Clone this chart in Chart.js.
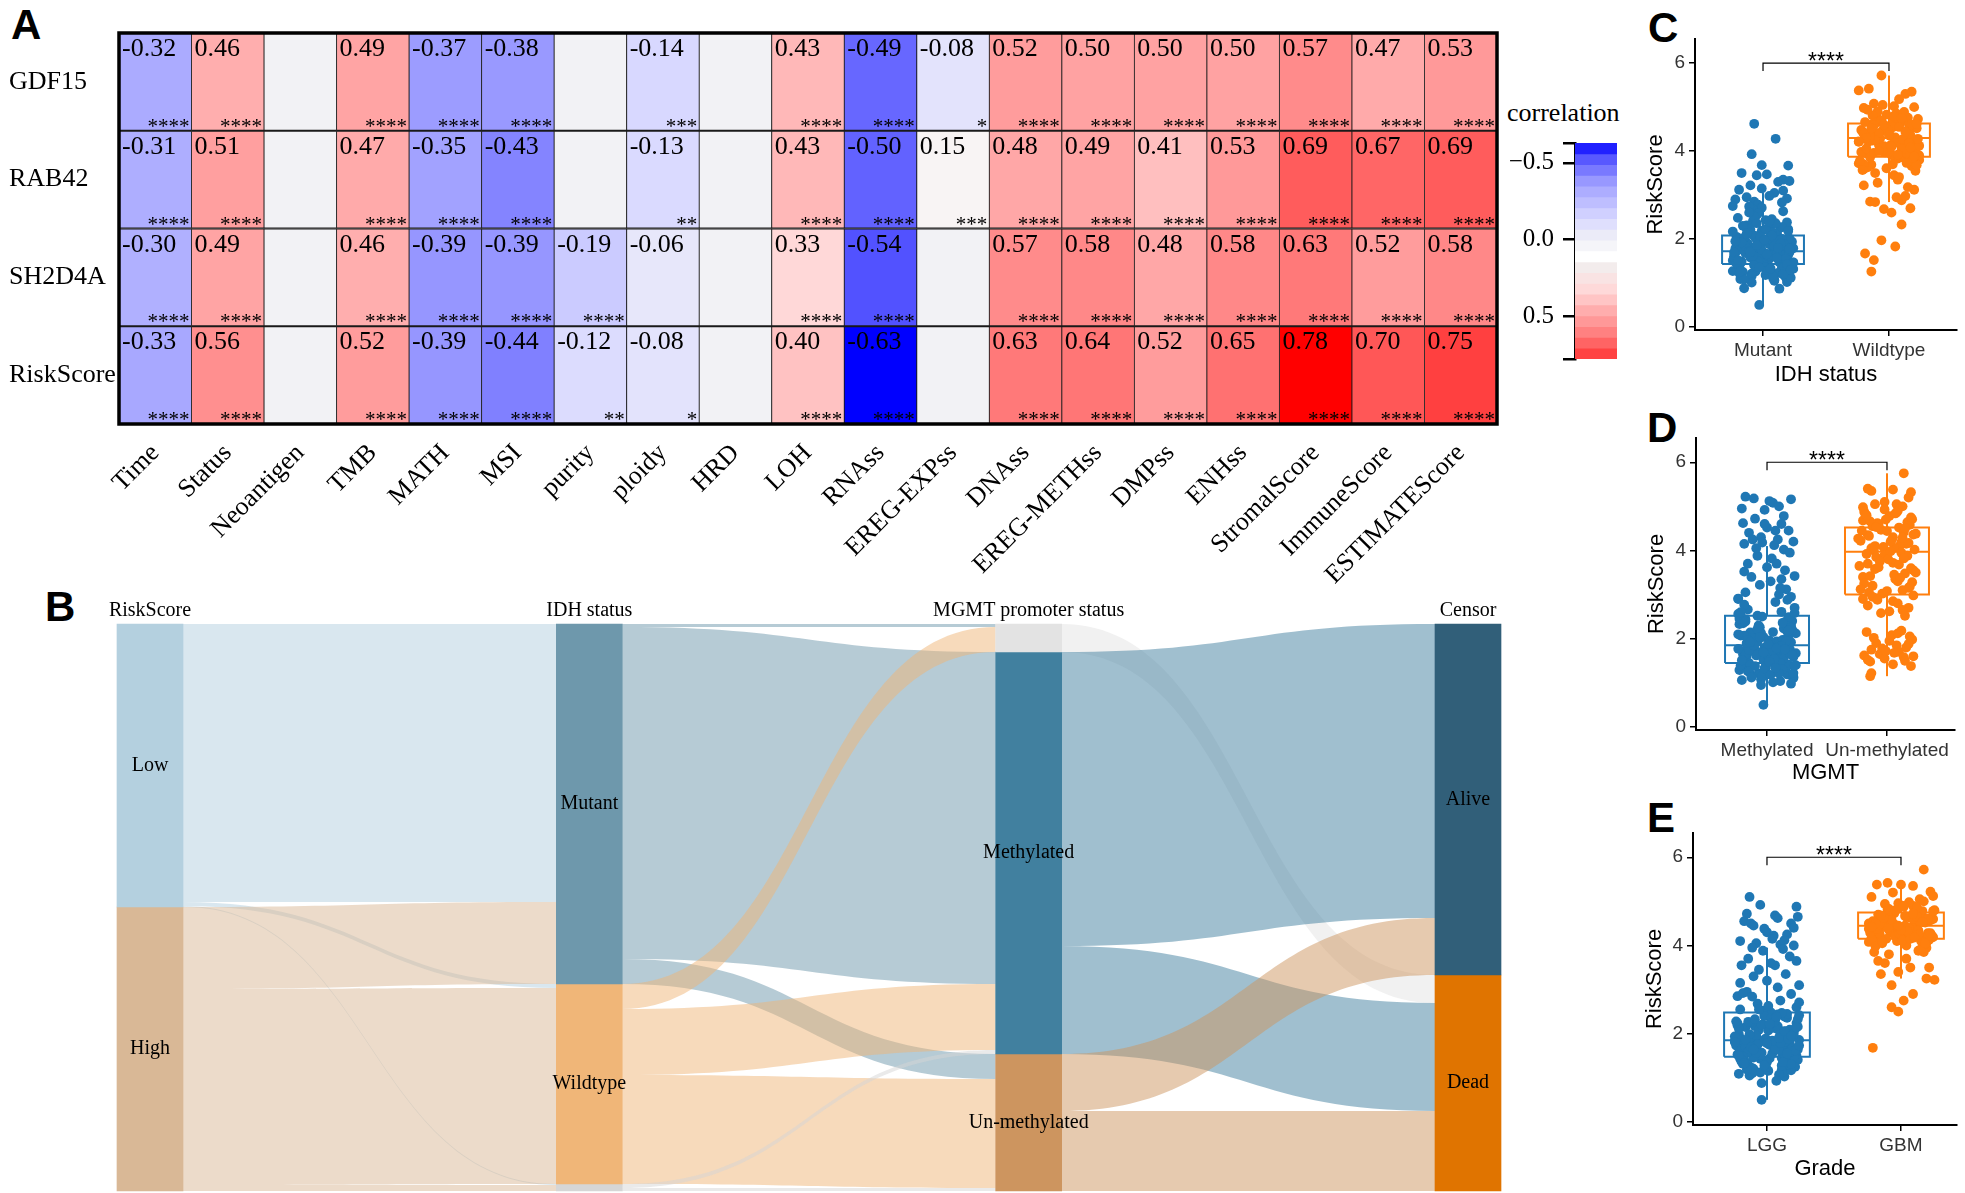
<!DOCTYPE html>
<html>
<head>
<meta charset="utf-8">
<script src="https://cdn.jsdelivr.net/npm/chart.js@4.4.1/dist/chart.umd.min.js"></script>
<style>
  body { margin: 0; background: #fff; width: 1965px; height: 1193px; position: relative; overflow: hidden; }
  canvas { position: absolute; }
  .letter { position: absolute; font: bold 42px 'Liberation Sans', Arial, sans-serif; line-height: 1; color: #000; }
  .note { position: absolute; font: 26px 'Liberation Serif', 'Times New Roman', serif; line-height: 1; color: #000; }
</style>
</head>
<body>
<div class="letter" style="left:11px;top:4px">A</div>
<div class="letter" style="left:45px;top:586px">B</div>
<div class="letter" style="left:1648px;top:7px">C</div>
<div class="letter" style="left:1647px;top:407px">D</div>
<div class="letter" style="left:1647px;top:797px">E</div>
<div class="note" style="left:1507px;top:100px">correlation</div>

<canvas id="sankey" width="1530" height="613" style="left:0;top:580px"></canvas>
<canvas id="heat" width="1500" height="600" style="left:0;top:0"></canvas>
<canvas id="legend" width="150" height="300" style="left:1490px;top:90px"></canvas>
<canvas id="boxC" width="335" height="395" style="left:1630px;top:0"></canvas>
<canvas id="boxD" width="335" height="395" style="left:1630px;top:395px"></canvas>
<canvas id="boxE" width="335" height="403" style="left:1630px;top:790px"></canvas>

<script>
// ---------- panel A: correlation heatmap ----------
const heatRows = ['GDF15', 'RAB42', 'SH2D4A', 'RiskScore'];
const heatCols = ['Time', 'Status', 'Neoantigen', 'TMB', 'MATH', 'MSI', 'purity', 'ploidy', 'HRD', 'LOH',
  'RNAss', 'EREG-EXPss', 'DNAss', 'EREG-METHss', 'DMPss', 'ENHss', 'StromalScore', 'ImmuneScore', 'ESTIMATEScore'];

// null = not significant, no value printed
const corGDF15 = [-0.32, 0.46, null, 0.49, -0.37, -0.38, null, -0.14, null, 0.43, -0.49, -0.08, 0.52, 0.50, 0.50, 0.50, 0.57, 0.47, 0.53];
const corRAB42 = [-0.31, 0.51, null, 0.47, -0.35, -0.43, null, -0.13, null, 0.43, -0.50, 0.15, 0.48, 0.49, 0.41, 0.53, 0.69, 0.67, 0.69];
const corSH2D4A = [-0.30, 0.49, null, 0.46, -0.39, -0.39, -0.19, -0.06, null, 0.33, -0.54, null, 0.57, 0.58, 0.48, 0.58, 0.63, 0.52, 0.58];
const corRiskScore = [-0.33, 0.56, null, 0.52, -0.39, -0.44, -0.12, -0.08, null, 0.40, -0.63, null, 0.63, 0.64, 0.52, 0.65, 0.78, 0.70, 0.75];

const sigGDF15 = ['****', '****', '', '****', '****', '****', '', '***', '', '****', '****', '*', '****', '****', '****', '****', '****', '****', '****'];
const sigRAB42 = ['****', '****', '', '****', '****', '****', '', '**', '', '****', '****', '***', '****', '****', '****', '****', '****', '****', '****'];
const sigSH2D4A = ['****', '****', '', '****', '****', '****', '****', '', '', '****', '****', '', '****', '****', '****', '****', '****', '****', '****'];
const sigRiskScore = ['****', '****', '', '****', '****', '****', '**', '*', '', '****', '****', '', '****', '****', '****', '****', '****', '****', '****'];

const heatValues = [corGDF15, corRAB42, corSH2D4A, corRiskScore];
const heatStars = [sigGDF15, sigRAB42, sigSH2D4A, sigRiskScore];

const legendMin = -0.63;
const legendMax = 0.78;
const legendTicks = [-0.5, 0.0, 0.5];
const legendSteps = 20;

// ---------- panel B: alluvial ----------
const sankeyAxes = ['RiskScore', 'IDH status', 'MGMT promoter status', 'Censor'];
const riskLevels = ['Low', 'High'];
const riskCounts = [283, 284];
const idhLevels = ['Mutant', 'Wildtype', 'NA'];
const idhCounts = [360, 200, 7];
const mgmtLevels = ['NA', 'Methylated', 'Un-methylated'];
const mgmtCounts = [28, 402, 137];
const censorLevels = ['Alive', 'Dead'];
const censorCounts = [351, 216];
// [from, to, count]
const riskToIdh = [[0, 0, 278], [0, 1, 4], [0, 2, 1], [1, 0, 82], [1, 1, 196], [1, 2, 6]];
const idhToMgmt = [[0, 0, 3], [0, 1, 332], [0, 2, 25], [1, 0, 25], [1, 1, 66], [1, 2, 109], [2, 1, 4], [2, 2, 3]];
const mgmtToCensor = [[0, 1, 28], [1, 0, 294], [1, 1, 108], [2, 0, 57], [2, 1, 80]];

// ---------- panels C-E: RiskScore by group ----------
const idhGroups = ['Mutant', 'Wildtype'];
const mgmtGroups = ['Methylated', 'Un-methylated'];
const gradeGroups = ['LGG', 'GBM'];
const scoreTicks = [0, 2, 4, 6];

// box stats: q1, median, q3, lower whisker, upper whisker
const idhMutantBox = [1.43, 1.72, 2.08, 0.50, 3.05];
const idhWildBox = [3.87, 4.30, 4.63, 2.84, 5.72];
const mgmtMethBox = [1.45, 1.85, 2.52, 0.50, 4.10];
const mgmtUnmBox = [3.00, 3.97, 4.52, 1.15, 5.75];
const gradeLggBox = [1.48, 1.85, 2.48, 0.50, 3.95];
const gradeGbmBox = [4.15, 4.45, 4.75, 3.25, 5.42];

const idhMutantY = [
  4.62, 4.28, 3.93, 3.68, 3.67, 3.50, 3.45, 3.47, 3.35, 3.32,
  3.30, 3.12, 3.15, 3.05, 3.10, 2.90, 2.95, 2.85, 0.50, 0.88,
  0.87, 2.98, 3.22, 2.92, 2.75,
  1.72, 1.45, 2.05, 1.88, 1.31, 2.41, 1.62, 1.15, 1.98, 2.22,
  1.54, 1.07, 1.83, 2.63, 1.39, 1.76, 2.12, 1.26, 1.94, 1.58,
  2.34, 1.69, 1.02, 2.78, 1.47, 1.85, 2.01, 1.21, 1.66, 2.48,
  1.36, 1.91, 1.11, 2.17, 1.52, 2.71, 1.79, 1.28, 2.06, 1.43,
  1.64, 2.29, 1.18, 1.97, 1.56, 2.55, 1.34, 1.81, 2.09, 1.24,
  1.73, 2.38, 1.49, 1.05, 1.89, 2.26, 1.61, 1.33, 2.67, 1.77,
  1.41, 2.14, 1.86, 1.13, 1.68, 2.45, 1.27, 1.95, 1.59, 2.21,
  1.38, 1.82, 2.83, 1.09, 1.71, 2.03, 1.46, 2.58, 1.23, 1.92,
  1.55, 2.31, 1.67, 1.16, 2.11, 1.78, 1.42, 2.51, 1.29, 1.87,
  1.63, 2.19, 1.35, 2.74, 1.99, 1.51, 1.19, 2.36, 1.74, 1.84,
  1.48, 1.93, 1.12, 2.24, 1.65, 1.37, 2.07, 1.57, 1.80, 2.43,
  1.25, 1.70, 1.01, 2.16, 1.44, 1.90, 2.60, 1.32, 1.60, 2.00,
  1.58, 1.83, 1.29, 2.02, 1.66, 1.44, 2.27, 1.75, 1.15, 1.92,
  1.37, 2.10, 1.61, 1.87, 1.23, 2.36, 1.50, 1.78, 2.15, 1.33,
  1.69, 1.96, 1.40, 2.22, 1.55, 1.08, 1.84, 2.05, 1.47, 1.73,
  2.40, 1.26, 1.90, 1.62, 2.18, 1.35, 1.80, 1.52, 2.08, 1.20,
  1.70, 1.98, 1.43, 2.30, 1.57, 1.86, 1.30, 2.12, 1.65, 1.95
];
const idhMutantDx = [
  -0.07, 0.10, -0.09, -0.01, 0.20, -0.17, -0.05, 0.03, 0.16, 0.21,
  0.12, -0.19, -0.01, 0.09, 0.16, -0.22, -0.13, -0.07, -0.03, -0.15,
  0.13, 0.05, -0.10, 0.19, -0.24,
  -0.12, 0.18, -0.21, 0.05, 0.22, -0.08, 0.14, -0.17, -0.02, 0.20,
  -0.23, 0.09, -0.14, 0.16, 0.01, -0.19, 0.11, -0.06, 0.23, -0.10,
  0.07, -0.22, 0.19, -0.04, 0.13, -0.16, 0.21, -0.09, 0.03, -0.20,
  0.15, -0.13, 0.08, -0.24, 0.17, -0.01, 0.24, -0.18, 0.10, -0.07,
  0.20, -0.11, 0.02, -0.15, 0.12, -0.05, 0.23, -0.21, 0.06, 0.16,
  -0.03, 0.19, -0.17, 0.09, -0.12, 0.14, -0.23, 0.04, -0.08, 0.22,
  -0.19, 0.11, -0.02, 0.18, -0.14, 0.07, -0.24, 0.13, 0.00, -0.10,
  0.21, -0.06, 0.15, -0.18, 0.08, -0.15, 0.24, -0.04, 0.12, -0.20,
  0.05, -0.13, 0.17, -0.09, 0.10, -0.22, 0.19, -0.07, 0.03, -0.16,
  0.14, -0.01, 0.20, -0.11, 0.06, -0.24, 0.16, -0.05, 0.09, -0.18,
  0.00, -0.20, 0.22, -0.13, 0.04, 0.17, -0.06, -0.23, 0.11, 0.02,
  -0.16, 0.21, -0.09, 0.07, -0.18, 0.13, -0.11, 0.24, -0.03, 0.15,
  0.02, -0.14, 0.19, -0.06, 0.11, -0.21, 0.15, -0.01, 0.08, -0.17,
  0.23, -0.09, 0.04, 0.17, -0.19, 0.10, -0.04, 0.21, -0.12, 0.06,
  -0.23, 0.13, -0.07, 0.02, 0.18, -0.15, 0.09, -0.02, 0.24, -0.11,
  0.05, -0.18, 0.14, -0.08, 0.20, -0.03, 0.12, -0.20, 0.07, 0.16,
  -0.10, 0.01, 0.19, -0.16, 0.11, -0.05, 0.22, -0.13, 0.03, -0.22
];

const idhWildY = [
  5.72, 5.38, 5.42, 5.35, 5.30, 5.18, 5.08, 5.05, 5.02, 5.00,
  4.98, 3.22, 3.12, 2.85, 2.84, 2.88, 2.95, 2.70, 2.68, 2.60,
  2.33, 1.97, 1.83, 1.67, 1.52, 1.26, 2.98, 3.35, 3.28, 3.18,
  4.31, 3.95, 4.62, 4.12, 3.78, 4.48, 4.05, 4.83, 3.66, 4.24,
  4.71, 3.88, 4.40, 4.17, 3.59, 4.55, 4.02, 4.89, 3.72, 4.35,
  4.09, 4.66, 3.83, 4.28, 4.52, 3.97, 4.76, 3.69, 4.20, 4.44,
  3.91, 4.60, 4.14, 3.80, 4.37, 4.85, 3.63, 4.07, 4.50, 4.26,
  3.75, 4.68, 4.00, 4.42, 3.86, 4.19, 4.79, 3.55, 4.33, 4.58,
  3.93, 4.11, 4.73, 3.70, 4.46, 4.04, 4.90, 3.84, 4.22, 4.63,
  3.98, 4.39, 3.61, 4.15, 4.81, 3.77, 4.29, 4.54, 3.90, 4.06,
  4.69, 3.50, 4.36, 4.21, 3.82, 4.60, 4.01, 4.47, 3.68, 4.94,
  4.13, 3.87, 4.41, 4.27, 3.57, 4.74, 3.96, 4.18, 4.57, 3.73,
  4.32, 3.45, 4.03, 4.65, 3.41,
  4.25, 4.55, 3.85, 4.40, 4.10, 4.70, 3.95, 4.33, 4.62, 4.05,
  4.48, 3.78, 4.18, 4.80, 4.30, 3.92, 4.58, 4.12, 4.44, 4.00,
  4.66, 3.88, 4.36, 4.22, 4.75, 3.70, 4.52, 4.08, 4.28, 4.60
];
const idhWildDx = [
  -0.06, -0.24, -0.16, 0.18, 0.13, 0.08, -0.12, -0.05, 0.04, 0.20,
  -0.20, -0.20, 0.20, -0.15, -0.11, 0.10, 0.06, 0.17, -0.04, 0.02,
  0.10, -0.06, 0.05, -0.19, -0.12, -0.14, 0.13, 0.07, -0.09, 0.15,
  0.05, -0.18, 0.21, -0.07, 0.14, -0.22, 0.10, -0.02, 0.18, -0.13,
  0.03, 0.23, -0.16, 0.08, -0.20, 0.16, -0.05, 0.12, -0.24, 0.01,
  0.19, -0.11, 0.07, -0.19, 0.22, -0.03, 0.15, -0.14, 0.09, -0.21,
  0.02, 0.17, -0.08, 0.24, -0.12, 0.06, -0.17, 0.13, -0.01, 0.20,
  -0.23, 0.11, -0.06, 0.16, -0.15, 0.04, -0.10, 0.21, -0.19, 0.08,
  0.14, -0.04, 0.23, -0.20, 0.00, 0.18, -0.09, 0.12, -0.16, 0.06,
  -0.22, 0.15, -0.02, 0.10, -0.13, 0.19, -0.07, 0.03, 0.24, -0.18,
  0.09, -0.11, 0.17, -0.24, 0.05, -0.14, 0.13, -0.05, 0.22, -0.17,
  0.01, 0.20, -0.08, 0.11, -0.21, 0.07, -0.12, 0.16, -0.03, 0.14,
  -0.19, 0.04, 0.21, -0.10, 0.08,
  -0.11, 0.08, 0.19, -0.20, 0.02, -0.06, 0.14, -0.15, 0.22, 0.11,
  -0.01, -0.23, 0.16, 0.04, -0.18, 0.07, -0.12, 0.24, 0.13, -0.08,
  -0.19, 0.20, 0.00, -0.24, 0.10, 0.03, -0.14, 0.17, 0.23, -0.04
];

const mgmtMethY = [
  5.22, 5.18, 5.16, 5.08, 5.00, 4.95, 4.92, 4.78, 4.72, 4.62,
  4.60, 4.52, 4.45, 4.40, 4.30, 4.25, 4.20, 4.15, 4.12, 4.02,
  3.88, 3.82, 3.70, 3.62, 3.55, 3.52, 3.42, 3.40, 3.30, 3.22,
  3.12, 3.05, 3.00, 2.90, 2.95, 4.60, 4.45, 4.25, 3.95, 3.70,
  3.35, 4.05, 5.12, 4.18, 3.15, 0.50,
  1.85, 1.42, 2.38, 1.67, 1.13, 2.05, 1.94, 1.29, 2.61, 1.55,
  1.78, 2.19, 1.08, 1.88, 2.47, 1.36, 1.71, 2.12, 1.50, 2.83,
  1.62, 1.97, 1.21, 2.29, 1.45, 1.83, 2.56, 1.04, 1.74, 2.01,
  1.33, 2.40, 1.58, 1.91, 1.17, 2.23, 1.69, 2.70, 1.39, 1.81,
  2.08, 1.26, 1.96, 2.52, 1.48, 1.65, 2.15, 1.11, 1.87, 2.34,
  1.53, 1.76, 2.91, 1.31, 2.03, 1.60, 1.98, 1.19, 2.44, 1.72,
  1.40, 2.26, 1.84, 1.06, 1.63, 2.11, 1.92, 2.66, 1.35, 1.79,
  1.24, 2.33, 1.57, 2.00, 1.46, 2.77, 1.68, 1.15, 2.18, 1.89,
  1.52, 2.49, 1.27, 1.75, 2.07, 1.43, 1.99, 2.58, 1.61, 1.01,
  1.86, 2.21, 1.37, 1.70, 2.42, 1.54, 1.93, 1.22, 2.14, 1.80,
  0.95, 2.36, 1.64, 1.49, 2.88, 1.77, 1.30, 2.04, 0.98, 1.90,
  1.62, 1.95, 1.33, 2.20, 1.74, 1.48, 2.35, 1.83, 1.18, 2.02,
  1.41, 2.13, 1.67, 1.90, 1.27, 2.45, 1.56, 1.81, 2.25, 1.38,
  1.72, 2.07, 1.45, 2.30, 1.59, 1.12, 1.88, 2.16, 1.51, 1.78,
  2.50, 1.30, 1.97, 1.66, 2.22, 1.39, 1.85, 1.54, 2.10, 1.21,
  1.76, 2.04, 1.47, 2.39, 1.63, 1.92, 1.34, 2.18, 1.69, 2.60
];
const mgmtMethDx = [
  -0.18, -0.11, 0.20, 0.05, 0.10, -0.21, -0.02, 0.14, -0.10, -0.20,
  0.12, 0.00, 0.18, -0.15, -0.05, 0.09, 0.22, -0.19, 0.06, 0.14,
  -0.08, 0.04, 0.08, 0.00, 0.15, -0.19, 0.23, -0.13, 0.03, -0.06,
  0.16, -0.18, 0.10, -0.24, 0.20, -0.02, 0.07, -0.12, 0.19, -0.16,
  0.12, -0.09, 0.02, -0.04, 0.11, -0.03,
  0.04, -0.20, 0.15, -0.09, 0.22, -0.14, 0.08, -0.23, 0.12, 0.00,
  -0.17, 0.19, -0.05, 0.10, -0.21, 0.16, -0.11, 0.24, -0.02, 0.07,
  -0.18, 0.13, -0.07, 0.20, -0.15, 0.03, -0.24, 0.11, -0.10, 0.17,
  -0.01, 0.21, -0.19, 0.06, -0.13, 0.14, -0.06, 0.23, -0.22, 0.09,
  0.18, -0.16, 0.02, -0.08, 0.12, -0.20, 0.05, 0.22, -0.12, 0.15,
  -0.03, 0.19, -0.24, 0.10, -0.14, 0.01, -0.09, 0.17, -0.18, 0.07,
  0.24, -0.06, 0.13, -0.21, 0.04, -0.11, 0.20, -0.16, 0.09, -0.02,
  0.16, -0.23, 0.11, -0.13, 0.06, -0.19, 0.14, -0.04, 0.21, -0.10,
  0.02, 0.18, -0.15, 0.08, -0.22, 0.12, -0.07, 0.23, -0.17, 0.05,
  -0.12, 0.19, -0.01, 0.15, -0.20, 0.10, -0.08, 0.22, -0.14, 0.03,
  -0.05, 0.13, -0.18, 0.07, 0.17, -0.24, 0.11, -0.03, 0.20, -0.12,
  -0.09, 0.16, -0.02, 0.21, -0.15, 0.07, -0.20, 0.12, 0.03, -0.12,
  0.18, -0.05, 0.24, -0.17, 0.09, -0.23, 0.14, -0.01, 0.20, -0.10,
  0.05, -0.19, 0.11, -0.07, 0.22, -0.13, 0.01, 0.17, -0.21, 0.08,
  -0.04, 0.13, -0.16, 0.19, -0.08, 0.23, -0.11, 0.06, -0.24, 0.10,
  0.15, -0.06, 0.02, -0.18, 0.21, -0.14, 0.07, 0.18, -0.03, -0.22
];

const mgmtUnmY = [
  5.75, 5.40, 5.35, 5.38, 5.32, 5.20, 5.10, 5.05, 5.05, 4.98, 5.00,
  4.62, 4.15, 4.88, 4.30, 4.71, 4.05, 4.52, 4.93, 4.22, 4.41,
  4.78, 4.10, 4.58, 4.35, 4.84, 4.02, 4.47, 4.68, 4.19, 4.55,
  4.90, 4.27, 4.64, 4.08, 4.44, 4.75, 4.33, 4.12, 4.60, 4.38,
  4.82, 4.24, 4.50, 4.00, 4.70, 4.17, 4.45, 4.86, 4.29, 4.66,
  4.06, 4.53, 4.36, 4.80, 4.20,
  3.95, 3.40, 3.72, 3.15, 3.85, 3.55, 3.05, 3.90, 3.30, 3.65,
  3.48, 3.80, 3.20, 3.60, 3.92, 3.35, 3.10, 3.75, 3.50, 3.25,
  3.88, 3.02, 3.68, 3.42, 3.98, 3.28, 3.58, 3.12, 3.82, 3.45,
  3.70, 3.18, 3.62, 3.38, 3.08,
  2.95, 2.70, 2.85, 2.58, 2.90, 2.65, 2.80, 2.52, 2.75, 2.98, 2.62, 2.88,
  2.15, 1.85, 1.65, 2.05, 1.75, 1.95, 1.55, 2.18, 1.80, 1.62, 1.90, 2.08,
  1.70, 1.48, 1.98, 1.78, 1.58, 2.02, 1.68, 1.88, 1.52, 1.72, 2.12, 1.60,
  1.15, 1.22, 1.38, 1.50, 1.42
];
const mgmtUnmDx = [
  0.14, -0.16, -0.13, 0.05, 0.20, 0.18, -0.02, -0.10, 0.08, -0.20, 0.13,
  -0.08, 0.16, -0.19, 0.05, 0.21, -0.13, 0.10, -0.02, -0.22, 0.14,
  0.02, -0.10, 0.19, -0.16, 0.07, 0.23, -0.05, -0.20, 0.12, -0.12,
  0.09, -0.24, 0.17, -0.03, 0.00, 0.20, -0.15, 0.11, -0.07, 0.24,
  -0.18, 0.04, 0.15, -0.11, -0.01, 0.18, -0.21, 0.08, 0.13, -0.14,
  0.06, -0.09, 0.22, -0.17, 0.03,
  0.12, -0.20, 0.05, 0.18, -0.09, 0.22, -0.15, -0.02, 0.09, -0.23,
  0.15, 0.01, -0.12, 0.20, -0.17, 0.07, 0.13, -0.06, 0.24, -0.19,
  0.17, -0.04, 0.10, -0.14, 0.03, 0.21, -0.10, -0.22, 0.14, 0.06,
  -0.16, 0.19, -0.07, 0.11, 0.00,
  -0.12, 0.18, 0.05, -0.05, -0.20, 0.13, 0.09, 0.15, -0.16, 0.22, 0.02, -0.08,
  -0.17, 0.08, -0.06, 0.19, -0.13, 0.02, -0.02, 0.12, 0.16, -0.19, -0.09, 0.04,
  0.10, -0.14, 0.21, -0.04, 0.14, -0.11, 0.06, 0.18, -0.16, -0.01, 0.09, 0.22,
  -0.14, -0.13, 0.20, 0.15, 0.05
];

const gradeLggY = [
  5.10, 4.92, 4.88, 4.65, 4.68, 4.62, 4.72, 4.55, 4.50, 4.45,
  4.50, 4.40, 4.38, 4.30, 4.22, 4.25, 4.10, 4.05, 4.02, 4.00,
  3.92, 3.88, 3.75, 3.70, 3.65, 3.55, 3.55, 3.45, 3.35, 3.30,
  3.20, 3.15, 3.10, 3.05, 2.95, 2.90, 2.85, 4.15, 3.95, 4.12,
  3.60, 0.50,
  1.88, 1.35, 2.21, 1.62, 1.09, 2.44, 1.76, 1.50, 2.07, 1.23,
  1.95, 2.68, 1.41, 1.70, 2.13, 1.18, 1.84, 2.36, 1.57, 2.01,
  1.29, 1.90, 2.55, 1.44, 1.66, 2.17, 1.03, 1.80, 2.30, 1.53,
  1.97, 1.26, 2.75, 1.61, 1.86, 2.09, 1.38, 1.73, 2.48, 1.14,
  1.92, 1.47, 2.25, 1.68, 1.32, 2.04, 1.82, 2.60, 1.20, 1.55,
  1.99, 2.39, 1.43, 1.78, 1.07, 2.15, 1.64, 2.84, 1.36, 1.87,
  2.02, 1.52, 1.25, 2.27, 1.71, 1.94, 1.45, 2.52, 1.17, 1.83,
  2.10, 1.60, 1.30, 2.33, 1.75, 2.71, 1.40, 1.98, 1.12, 1.67,
  2.19, 1.56, 1.89, 2.45, 1.34, 1.79, 2.06, 1.22, 1.63, 2.92,
  1.49, 1.85, 2.24, 1.05, 1.74, 2.12, 1.58, 1.96, 1.28, 2.40,
  0.93, 1.69, 2.00, 1.46, 2.63, 1.81, 1.37, 2.16, 0.88, 1.91,
  1.66, 1.99, 1.31, 2.24, 1.79, 1.52, 2.33, 1.86, 1.16, 2.05,
  1.43, 2.17, 1.71, 1.93, 1.24, 2.42, 1.59, 1.84, 2.28, 1.36,
  1.75, 2.09, 1.48, 2.35, 1.62, 1.10, 1.91, 2.20, 1.55, 1.81,
  2.47, 1.28, 2.00, 1.69, 2.26, 1.41, 1.88, 1.57, 2.14, 1.19,
  1.78, 2.06, 1.50, 2.38, 1.64, 1.95, 1.33, 2.22, 1.73, 2.55
];
const gradeLggDx = [
  -0.13, -0.05, 0.22, 0.23, 0.06, 0.08, -0.15, -0.17, -0.12, -0.10,
  0.18, 0.20, -0.02, 0.00, 0.05, 0.15, -0.20, -0.08, 0.10, 0.20,
  0.12, -0.03, 0.17, -0.14, 0.22, -0.19, 0.06, -0.06, 0.14, -0.10,
  0.00, -0.20, 0.24, 0.08, -0.15, 0.18, -0.22, 0.04, -0.11, 0.13,
  0.03, -0.04,
  -0.11, 0.20, -0.03, 0.14, -0.21, 0.08, -0.16, 0.22, 0.01, -0.12,
  0.17, -0.07, 0.23, -0.19, 0.05, 0.11, -0.24, 0.15, -0.04, 0.19,
  -0.14, 0.09, -0.20, 0.02, 0.21, -0.09, 0.13, -0.17, 0.06, -0.22,
  0.16, -0.01, 0.10, -0.15, 0.24, -0.06, 0.18, -0.23, 0.03, 0.12,
  -0.08, 0.20, -0.13, 0.07, -0.18, 0.15, -0.02, 0.22, -0.10, 0.04,
  -0.21, 0.13, -0.05, 0.17, 0.09, -0.16, 0.23, -0.11, 0.00, -0.19,
  0.14, -0.07, 0.21, -0.14, 0.06, -0.24, 0.11, -0.03, 0.18, -0.12,
  0.08, -0.20, 0.16, -0.09, 0.02, 0.24, -0.17, 0.10, -0.05, 0.19,
  -0.22, 0.12, -0.01, 0.15, -0.15, 0.05, 0.20, -0.11, 0.09, -0.18,
  0.14, -0.06, 0.22, -0.13, 0.03, -0.21, 0.17, -0.08, 0.11, -0.02,
  0.07, -0.16, 0.18, -0.10, 0.01, 0.13, -0.19, 0.23, -0.04, 0.10,
  0.06, -0.13, 0.18, -0.22, 0.10, -0.05, 0.23, -0.16, 0.01, 0.14,
  -0.20, 0.08, -0.09, 0.19, -0.01, 0.24, -0.14, 0.04, -0.23, 0.12,
  -0.07, 0.17, -0.18, 0.03, 0.21, -0.11, 0.09, -0.04, 0.15, -0.24,
  0.11, -0.02, 0.20, -0.12, 0.05, -0.19, 0.16, -0.08, 0.22, -0.15,
  0.00, 0.13, -0.21, 0.07, -0.10, 0.18, -0.17, 0.02, 0.24, -0.06
];

const gradeGbmY = [
  5.72, 5.38, 5.42, 5.38, 5.35, 5.22, 5.10, 5.05, 5.12, 5.20,
  3.85, 3.65, 3.60, 3.35, 3.40, 3.50, 3.88, 3.85, 3.50, 3.25,
  3.22, 3.10, 2.90, 2.75, 2.60, 2.50, 1.68, 3.80, 3.70,
  4.45, 4.12, 4.78, 4.30, 4.62, 4.05, 4.90, 4.38, 4.55, 4.20,
  4.70, 3.95, 4.48, 4.85, 4.25, 4.60, 4.15, 4.98, 4.35, 4.52,
  4.08, 4.75, 4.42, 4.28, 4.66, 4.00, 4.82, 4.18, 4.50, 4.33,
  4.72, 4.10, 4.58, 4.94, 4.23, 4.40, 4.68, 4.02, 4.46, 4.80,
  4.27, 4.63, 4.14, 4.54, 4.36, 4.88, 4.06, 4.44, 4.74, 4.21,
  4.57, 3.98, 4.32, 4.70, 4.16, 4.50, 4.86, 4.26, 4.61, 4.09,
  4.41, 4.77, 4.19, 4.53, 4.34, 4.96, 4.03, 4.47, 4.65, 4.24,
  4.83, 4.13, 4.56, 4.39, 4.73, 3.92, 4.29, 4.60, 4.11, 4.49,
  5.00, 4.37, 4.67, 4.22, 4.52,
  4.40, 4.65, 4.20, 4.55, 4.32, 4.80, 4.10, 4.48, 4.72, 4.28,
  4.58, 4.05, 4.38, 4.90, 4.25, 4.62, 4.15, 4.50, 4.78, 4.35,
  4.45, 4.68, 4.18, 4.53, 4.42
];
const gradeGbmDx = [
  0.17, -0.18, -0.10, 0.00, 0.09, 0.22, -0.22, 0.14, 0.24, -0.06,
  -0.20, -0.17, -0.12, -0.15, -0.02, 0.07, 0.13, 0.17, 0.21, 0.19,
  0.25, -0.07, 0.09, 0.02, -0.07, -0.02, -0.21, -0.09, 0.04,
  0.03, -0.19, 0.16, -0.08, 0.22, -0.14, 0.09, -0.23, 0.12, 0.00,
  -0.17, 0.19, -0.05, 0.10, -0.21, 0.24, -0.11, 0.06, -0.02, 0.18,
  -0.24, 0.13, -0.07, 0.20, -0.15, 0.04, -0.10, 0.23, -0.18, 0.08,
  0.15, -0.03, 0.21, -0.12, 0.01, -0.20, 0.11, 0.17, -0.06, 0.25,
  -0.16, 0.07, -0.22, 0.14, -0.09, 0.02, 0.19, -0.13, 0.10, -0.04,
  0.22, -0.19, 0.05, -0.11, 0.16, -0.24, 0.12, -0.01, 0.20, -0.14,
  0.08, -0.07, 0.24, -0.17, 0.13, -0.02, 0.18, -0.21, 0.04, 0.11,
  -0.09, 0.21, -0.15, 0.06, -0.05, 0.15, -0.23, 0.09, 0.01, -0.12,
  0.17, -0.18, 0.03, 0.23, -0.08,
  -0.10, 0.12, 0.20, -0.21, 0.05, -0.04, 0.15, -0.16, 0.09, 0.22,
  -0.07, 0.18, -0.24, 0.02, 0.13, -0.13, 0.07, -0.19, 0.24, 0.00,
  -0.02, -0.15, 0.10, 0.16, -0.22
];

const sigBracketY = 6.0;
const sigBracketDrop = 0.18;
const sigLabel = '****';

// ---------- styling ----------
const SERIF = "'Liberation Serif', 'Times New Roman', serif";
const SANS = "'Liberation Sans', Arial, sans-serif";
const BLUE = '#1f77b4';
const ORANGE = '#ff7f0e';
const blankFill = '#f2f2f5';
const corrStops = [
  [-0.63, [0, 0, 255]], [-0.54, [82, 82, 255]], [-0.50, [98, 98, 255]], [-0.44, [128, 128, 255]],
  [-0.39, [150, 150, 255]], [-0.35, [162, 162, 255]], [-0.31, [174, 174, 255]], [-0.19, [203, 203, 255]],
  [-0.13, [218, 218, 255]], [-0.07, [229, 229, 251]], [0.0, [240, 240, 246]], [0.11, [255, 255, 255]],
  [0.18, [243, 236, 236]], [0.33, [255, 216, 216]], [0.42, [255, 188, 188]], [0.47, [255, 170, 170]],
  [0.52, [255, 156, 156]], [0.58, [255, 136, 136]], [0.64, [255, 118, 118]], [0.69, [255, 92, 92]],
  [0.75, [255, 64, 64]], [0.78, [255, 0, 0]]
];

function corrColor(v) {
  if (v === null) return blankFill;
  if (v <= corrStops[0][0]) return 'rgb(' + corrStops[0][1].join(',') + ')';
  for (let i = 1; i < corrStops.length; i++) {
    const [v1, c1] = corrStops[i];
    if (v <= v1) {
      const [v0, c0] = corrStops[i - 1];
      const t = (v - v0) / (v1 - v0);
      return 'rgb(' + c0.map((c, k) => Math.round(c + (c1[k] - c) * t)).join(',') + ')';
    }
  }
  return 'rgb(' + corrStops[corrStops.length - 1][1].join(',') + ')';
}

function hexToRgba(hex, a) {
  const n = parseInt(hex.slice(1), 16);
  return 'rgba(' + ((n >> 16) & 255) + ',' + ((n >> 8) & 255) + ',' + (n & 255) + ',' + a + ')';
}

const baseOpts = {
  responsive: false,
  animation: false,
  events: [],
  devicePixelRatio: 1,
};

// ---------- heatmap ----------
const heatLabels = {
  id: 'heatLabels',
  afterDatasetsDraw(chart) {
    const ctx = chart.ctx;
    ctx.save();
    ctx.fillStyle = '#000';
    chart.data.datasets.forEach((ds, r) => {
      chart.getDatasetMeta(r).data.forEach((bar, c) => {
        const p = bar.getProps(['x', 'y', 'base', 'width'], true);
        const left = p.x - p.width / 2;
        const right = p.x + p.width / 2;
        const top = Math.min(p.y, p.base);
        const bottom = Math.max(p.y, p.base);
        const v = heatValues[r][c];
        if (v !== null) {
          ctx.font = '26px ' + SERIF;
          ctx.textAlign = 'left';
          ctx.textBaseline = 'alphabetic';
          ctx.fillText(v.toFixed(2), left + 3, top + 23);
        }
        const s = heatStars[r][c];
        if (s) {
          ctx.font = '21px ' + SERIF;
          ctx.textAlign = 'right';
          ctx.textBaseline = 'alphabetic';
          ctx.fillText(s, right - 2, bottom + 2);
        }
      });
    });
    const a = chart.chartArea;
    ctx.lineWidth = 3.5;
    ctx.strokeStyle = '#000';
    ctx.strokeRect(a.left, a.top, a.right - a.left, a.bottom - a.top);
    ctx.restore();
  }
};

new Chart(document.getElementById('heat'), {
  type: 'bar',
  data: {
    labels: heatCols,
    datasets: heatRows.map((row, r) => ({
      label: row,
      data: heatCols.map(() => [r, r + 1]),
      backgroundColor: heatValues[r].map(corrColor),
      borderColor: '#1a1a1a',
      borderWidth: { top: 1.3, bottom: 1.3, left: 0.8, right: 0.8 },
      borderSkipped: false,
      barPercentage: 1,
      categoryPercentage: 1,
      grouped: false
    }))
  },
  options: {
    ...baseOpts,
    layout: { padding: { left: 9, top: 33, right: 3, bottom: 0 } },
    plugins: { legend: { display: false }, tooltip: { enabled: false } },
    scales: {
      x: {
        grid: { display: false },
        border: { display: false },
        ticks: {
          autoSkip: false, minRotation: 45, maxRotation: 45, padding: 6,
          color: '#000', font: { family: SERIF, size: 26 }
        },
        afterFit: s => { s.height = 176; }
      },
      y: {
        type: 'linear', min: 0, max: heatRows.length, reverse: true,
        afterBuildTicks: s => { s.ticks = heatRows.map((_, i) => ({ value: i + 0.5 })); },
        ticks: {
          callback: v => heatRows[Math.floor(v)],
          crossAlign: 'far', color: '#000', font: { family: SERIF, size: 26 }
        },
        grid: { display: false },
        border: { display: false },
        afterFit: s => { s.width = 110; }
      }
    }
  },
  plugins: [heatLabels]
});

// ---------- colour legend ----------
const legendStep = (legendMax - legendMin) / legendSteps;
const legendBands = [];
for (let i = 0; i < legendSteps; i++) {
  legendBands.push([legendMin + i * legendStep, legendMin + (i + 1) * legendStep]);
}
new Chart(document.getElementById('legend'), {
  type: 'bar',
  data: {
    labels: ['correlation'],
    datasets: legendBands.map(b => ({
      data: [b],
      backgroundColor: corrColor((b[0] + b[1]) / 2),
      borderWidth: 0,
      barPercentage: 1,
      categoryPercentage: 1,
      grouped: false
    }))
  },
  options: {
    ...baseOpts,
    layout: { padding: { left: 0, top: 53, right: 23, bottom: 31 } },
    plugins: { legend: { display: false }, tooltip: { enabled: false } },
    scales: {
      x: { display: false },
      y: {
        type: 'linear', min: legendMin, max: legendMax, reverse: true,
        afterBuildTicks: s => { s.ticks = [legendMin, ...legendTicks, legendMax].map(v => ({ value: v })); },
        ticks: {
          callback: v => legendTicks.includes(v) ? (v < 0 ? '\u2212' + Math.abs(v).toFixed(1) : v.toFixed(1)) : '',
          color: '#000', padding: 9, font: { family: SERIF, size: 25 }
        },
        grid: { display: true, drawOnChartArea: false, tickLength: 12, color: '#000', lineWidth: 2.5 },
        border: { display: true, color: '#000', width: 2.5 },
        afterFit: s => { s.width = 85; }
      }
    }
  }
});

// ---------- alluvial ----------
const sankeyLevels = [riskLevels, idhLevels, mgmtLevels, censorLevels];
const sankeyCounts = [riskCounts, idhCounts, mgmtCounts, censorCounts];
const sankeyColors = [
  ['#b4d0df', '#d9b896'],
  ['#6e98ac', '#f0b678', '#d6d6d6'],
  ['#e3e3e3', '#41809f', '#cd955f'],
  ['#315f79', '#e07400']
];
const sankeyFlows = [riskToIdh, idhToMgmt, mgmtToCensor];
const nodeWidth = 66;
const sankeyTotal = riskCounts.reduce((a, b) => a + b, 0);
const levelSlots = Math.max(...sankeyLevels.map(l => l.length));

const sankeyDraw = {
  id: 'sankeyDraw',
  beforeDatasetsDraw(chart) {
    const ctx = chart.ctx;
    const xs = chart.scales.x, ys = chart.scales.y;
    const starts = sankeyCounts.map(c => { let acc = 0; return c.map(v => { const s = acc; acc += v; return s; }); });
    ctx.save();
    sankeyFlows.forEach((flows, a) => {
      const srcOff = starts[a].slice();
      const tgtOff = starts[a + 1].slice();
      const srcPos = flows.map(f => { const s = srcOff[f[0]]; srcOff[f[0]] += f[2]; return s; });
      const order = flows.map((f, i) => i).sort((i, j) => flows[i][1] - flows[j][1] || flows[i][0] - flows[j][0]);
      const tgtPos = [];
      order.forEach(i => { tgtPos[i] = tgtOff[flows[i][1]]; tgtOff[flows[i][1]] += flows[i][2]; });
      const x0 = xs.getPixelForValue(a) + nodeWidth / 2;
      const x1 = xs.getPixelForValue(a + 1) - nodeWidth / 2;
      const xm = (x0 + x1) / 2;
      flows.forEach((f, i) => {
        const y0a = ys.getPixelForValue(srcPos[i]), y0b = ys.getPixelForValue(srcPos[i] + f[2]);
        const y1a = ys.getPixelForValue(tgtPos[i]), y1b = ys.getPixelForValue(tgtPos[i] + f[2]);
        ctx.beginPath();
        ctx.moveTo(x0, y0a);
        ctx.bezierCurveTo(xm, y0a, xm, y1a, x1, y1a);
        ctx.lineTo(x1, y1b);
        ctx.bezierCurveTo(xm, y1b, xm, y0b, x0, y0b);
        ctx.closePath();
        ctx.fillStyle = hexToRgba(sankeyColors[a][f[0]], 0.5);
        ctx.fill();
      });
    });
    ctx.restore();
  },
  afterDatasetsDraw(chart) {
    const ctx = chart.ctx;
    ctx.save();
    ctx.font = '20px ' + SERIF;
    ctx.fillStyle = '#000';
    ctx.textAlign = 'center';
    ctx.textBaseline = 'middle';
    chart.data.datasets.forEach((ds, k) => {
      chart.getDatasetMeta(k).data.forEach((bar, i) => {
        const name = sankeyLevels[i][k];
        if (!name || name === 'NA') return;
        const p = bar.getProps(['x', 'y', 'base'], true);
        ctx.fillText(name, p.x, (p.y + p.base) / 2);
      });
    });
    ctx.restore();
  }
};

const sankeyDatasets = [];
for (let k = 0; k < levelSlots; k++) {
  sankeyDatasets.push({
    data: sankeyCounts.map(c => c[k] || 0),
    backgroundColor: sankeyColors.map(c => c[k] || 'rgba(0,0,0,0)'),
    borderWidth: 0,
    barThickness: nodeWidth,
    clip: false
  });
}

new Chart(document.getElementById('sankey'), {
  type: 'bar',
  data: { labels: sankeyAxes, datasets: sankeyDatasets },
  options: {
    ...baseOpts,
    layout: { padding: { left: 150, top: 0, right: 62, bottom: 2 } },
    plugins: { legend: { display: false }, tooltip: { enabled: false } },
    scales: {
      x: {
        position: 'top', offset: false, stacked: true,
        grid: { display: false }, border: { display: false },
        ticks: { color: '#000', padding: -7, font: { family: SERIF, size: 20 }, maxRotation: 0, autoSkip: false },
        afterFit: s => { s.height = 44; }
      },
      y: { display: false, stacked: true, min: 0, max: sankeyTotal, reverse: true }
    }
  },
  plugins: [sankeyDraw]
});

// ---------- box + jitter panels ----------
const sigStars = {
  id: 'sigStars',
  afterDatasetsDraw(chart) {
    const ctx = chart.ctx;
    const x = chart.scales.x.getPixelForValue(1.5);
    const y = chart.scales.y.getPixelForValue(sigBracketY);
    ctx.save();
    ctx.font = '23px ' + SANS;
    ctx.fillStyle = '#000';
    ctx.textAlign = 'center';
    ctx.textBaseline = 'alphabetic';
    ctx.fillText(sigLabel, x, y + 6);
    ctx.restore();
  }
};

function boxPanel(id, p) {
  const datasets = [];
  const line = (pts, color, width) => ({
    data: pts, showLine: true, borderColor: color, borderWidth: width,
    pointRadius: 0, fill: false, order: 2
  });
  p.groups.forEach((g, gi) => {
    const c = gi + 1;
    const [q1, med, q3, lo, hi] = g.box;
    const w = p.boxHalf;
    datasets.push(line([{ x: c - w, y: q1 }, { x: c + w, y: q1 }, { x: c + w, y: q3 }, { x: c - w, y: q3 }, { x: c - w, y: q1 }], g.color, 2));
    datasets.push(line([{ x: c - w, y: med }, { x: c + w, y: med }], g.color, 2));
    datasets.push(line([{ x: c, y: q3 }, { x: c, y: hi }], g.color, 2));
    datasets.push(line([{ x: c, y: lo }, { x: c, y: q1 }], g.color, 2));
    datasets.push({
      data: g.y.map((y, i) => ({ x: c + g.dx[i], y: y })),
      pointRadius: 4.9, pointBackgroundColor: g.color, pointBorderWidth: 0, order: 1
    });
  });
  const bracket = line([
    { x: 1, y: sigBracketY - sigBracketDrop }, { x: 1, y: sigBracketY },
    { x: 2, y: sigBracketY }, { x: 2, y: sigBracketY - sigBracketDrop }
  ], '#000', 1.2);
  bracket.order = 0;
  datasets.push(bracket);

  const axisGrid = { display: true, drawOnChartArea: false, drawTicks: true, tickLength: 6, color: '#000', lineWidth: 1.5 };
  const axisBorder = { display: true, color: '#000', width: 2 };
  new Chart(document.getElementById(id), {
    type: 'scatter',
    data: { datasets: datasets },
    options: {
      ...baseOpts,
      layout: { padding: { left: 0, top: p.area.top, right: p.w - p.area.right, bottom: 0 } },
      plugins: { legend: { display: false }, tooltip: { enabled: false } },
      scales: {
        x: {
          type: 'linear', min: p.xMin, max: p.xMax,
          afterBuildTicks: s => { s.ticks = [{ value: 1 }, { value: 2 }]; },
          ticks: { callback: v => p.cats[v - 1], color: '#333', padding: 3, font: { family: SANS, size: 19 } },
          grid: axisGrid, border: axisBorder,
          title: { display: true, text: p.xTitle, color: '#000', font: { family: SANS, size: 22 }, padding: { top: 0, bottom: p.xTitlePad } },
          afterFit: s => { s.height = p.h - p.area.bottom; }
        },
        y: {
          type: 'linear', min: -0.07, max: 6.55,
          afterBuildTicks: s => { s.ticks = scoreTicks.map(v => ({ value: v })); },
          ticks: { color: '#333', padding: 4, font: { family: SANS, size: 19 } },
          grid: axisGrid, border: axisBorder,
          title: { display: true, text: 'RiskScore', color: '#000', font: { family: SANS, size: 22 }, padding: { top: p.yTitlePad, bottom: 0 } },
          afterFit: s => { s.width = p.area.left; }
        }
      }
    },
    plugins: [sigStars]
  });
}

boxPanel('boxC', {
  w: 335, h: 395, area: { left: 65, right: 327, top: 39, bottom: 330 },
  xMin: 0.46, xMax: 2.54, boxHalf: 0.325, cats: idhGroups, xTitle: 'IDH status', xTitlePad: 7, yTitlePad: 13,
  groups: [
    { y: idhMutantY, dx: idhMutantDx, box: idhMutantBox, color: BLUE },
    { y: idhWildY, dx: idhWildDx, box: idhWildBox, color: ORANGE }
  ]
});
boxPanel('boxD', {
  w: 335, h: 395, area: { left: 66, right: 325, top: 43, bottom: 335 },
  xMin: 0.408, xMax: 2.567, boxHalf: 0.35, cats: mgmtGroups, xTitle: 'MGMT', xTitlePad: 4, yTitlePad: 14,
  groups: [
    { y: mgmtMethY, dx: mgmtMethDx, box: mgmtMethBox, color: BLUE },
    { y: mgmtUnmY, dx: mgmtUnmDx, box: mgmtUnmBox, color: ORANGE }
  ]
});
boxPanel('boxE', {
  w: 335, h: 403, area: { left: 63, right: 327, top: 43, bottom: 335 },
  xMin: 0.448, xMax: 2.418, boxHalf: 0.32, cats: gradeGroups, xTitle: 'Grade', xTitlePad: 11, yTitlePad: 12,
  groups: [
    { y: gradeLggY, dx: gradeLggDx, box: gradeLggBox, color: BLUE },
    { y: gradeGbmY, dx: gradeGbmDx, box: gradeGbmBox, color: ORANGE }
  ]
});
</script>
</body>
</html>
